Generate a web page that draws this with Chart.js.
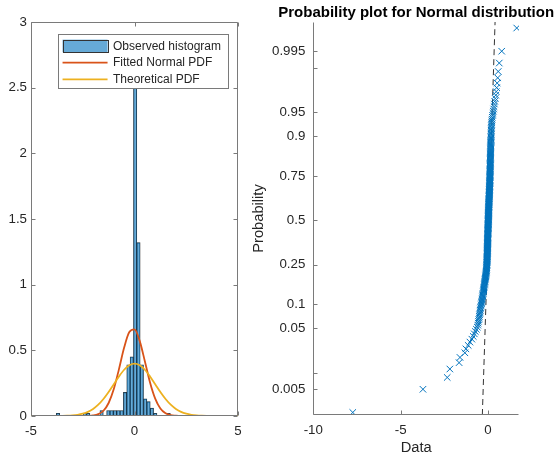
<!DOCTYPE html>
<html>
<head>
<meta charset="utf-8">
<script src="https://cdn.jsdelivr.net/npm/chart.js@4.4.0/dist/chart.umd.min.js"></script>
<style>
  html, body { margin: 0; padding: 0; background: #fff; }
  #wrap { position: relative; width: 557px; height: 459px; overflow: hidden; }
  canvas { position: absolute; top: 0; }
  #histCanvas { left: 0; }
  #probCanvas { left: 250px; }
</style>
</head>
<body>
<div id="wrap">
  <canvas id="histCanvas" width="260" height="459"></canvas>
  <canvas id="probCanvas" width="307" height="459"></canvas>
</div>
<script>
// ---------- left panel: histogram + pdfs ----------
const binCenters = [-3.695, -3.533, -3.371, -3.209, -3.047, -2.885, -2.723, -2.561, -2.399, -2.237,
  -2.075, -1.913, -1.751, -1.589, -1.427, -1.265, -1.103, -0.941, -0.779, -0.617,
  -0.455, -0.293, -0.131, 0.031, 0.193, 0.355, 0.517, 0.679, 0.841, 1.003,
  1.165, 1.327, 1.489, 1.651];
const binHeights = [0.021, 0, 0, 0, 0, 0, 0, 0, 0.021, 0.021,
  0, 0, 0, 0.042, 0, 0.042, 0.042, 0.042, 0.042, 0.042,
  0.18, 0.39, 0.45, 2.8, 1.32, 0.39, 0.13, 0.11, 0.06, 0.021,
  0, 0, 0, 0.021];

const pdfX = [-5, -4.75, -4.5, -4.25, -4, -3.75, -3.5, -3.25, -3, -2.75,
  -2.5, -2.25, -2, -1.75, -1.5, -1.25, -1, -0.75, -0.5, -0.25,
  0, 0.25, 0.5, 0.75, 1, 1.25, 1.5, 1.75, 2, 2.25,
  2.5, 2.75, 3, 3.25, 3.5, 3.75, 4, 4.25, 4.5, 4.75, 5];
const fittedPdf = [0, 0, 0, 0, 0, 0, 0, 0, 0, 0,
  0, 0.001, 0.004, 0.014, 0.040, 0.099, 0.205, 0.357, 0.521, 0.639,
  0.659, 0.572, 0.417, 0.255, 0.132, 0.057, 0.021, 0.006, 0.002, 0,
  0, 0, 0, 0, 0, 0, 0, 0, 0, 0, 0];
const theoreticalPdf = [0, 0, 0, 0, 0.0001, 0.0004, 0.0009, 0.002, 0.0044, 0.0091,
  0.0175, 0.0317, 0.054, 0.0863, 0.1295, 0.1826, 0.242, 0.3011, 0.3521, 0.3867,
  0.3989, 0.3867, 0.3521, 0.3011, 0.242, 0.1826, 0.1295, 0.0863, 0.054, 0.0317,
  0.0175, 0.0091, 0.0044, 0.002, 0.0009, 0.0004, 0.0001, 0, 0, 0, 0];

const histXTicks = [-5, 0, 5];
const histYTicks = [0, 0.5, 1, 1.5, 2, 2.5, 3];

// ---------- right panel: normal probability plot (300 sorted observations) ----------
const probData = [
  -7.74, -3.72, -2.33, -2.18, -1.65, -1.60, -1.32, -1.26, -1.13, -1.03,
  -0.92, -0.84, -0.78, -0.72, -0.66, -0.61, -0.58, -0.56, -0.54, -0.52,
  -0.50, -0.49, -0.48, -0.46, -0.45, -0.44, -0.43, -0.415, -0.40, -0.385,
  -0.37, -0.36, -0.35, -0.34, -0.33, -0.32, -0.31, -0.30, -0.29, -0.28,
  -0.27, -0.26, -0.25, -0.243, -0.235, -0.228, -0.22, -0.21, -0.20, -0.195,
  -0.19, -0.183, -0.175, -0.168, -0.16, -0.153, -0.145, -0.138, -0.13, -0.125,
  -0.12, -0.113, -0.105, -0.10, -0.095, -0.09, -0.085, -0.082, -0.078, -0.075,
  -0.072, -0.069, -0.066, -0.063, -0.06, -0.058, -0.056, -0.055, -0.053, -0.052,
  -0.050, -0.049, -0.047, -0.046, -0.045, -0.044, -0.042, -0.041, -0.040, -0.039,
  -0.037, -0.036, -0.035, -0.034, -0.033, -0.032, -0.031, -0.030, -0.029, -0.028,
  -0.027, -0.026, -0.025, -0.024, -0.023, -0.022, -0.021, -0.020, -0.019, -0.018,
  -0.017, -0.016, -0.015, -0.014, -0.013, -0.012, -0.011, -0.010, -0.009, -0.008,
  -0.007, -0.006, -0.005, -0.004, -0.003, -0.002, -0.001, 0.000, 0.001, 0.002,
  0.003, 0.004, 0.005, 0.006, 0.007, 0.008, 0.009, 0.010, 0.011, 0.012,
  0.013, 0.014, 0.015, 0.016, 0.017, 0.018, 0.019, 0.020, 0.021, 0.022,
  0.023, 0.024, 0.025, 0.026, 0.027, 0.028, 0.029, 0.030, 0.031, 0.032,
  0.033, 0.034, 0.035, 0.037, 0.038, 0.039, 0.040, 0.041, 0.042, 0.044,
  0.045, 0.046, 0.047, 0.048, 0.050, 0.051, 0.052, 0.053, 0.055, 0.056,
  0.057, 0.058, 0.060, 0.061, 0.062, 0.064, 0.065, 0.066, 0.068, 0.069,
  0.070, 0.072, 0.073, 0.075, 0.076, 0.078, 0.079, 0.081, 0.082, 0.084,
  0.085, 0.087, 0.088, 0.090, 0.092, 0.093, 0.095, 0.097, 0.098, 0.100,
  0.102, 0.103, 0.105, 0.106, 0.107, 0.108, 0.109, 0.110, 0.111, 0.112,
  0.113, 0.114, 0.115, 0.116, 0.117, 0.118, 0.119, 0.120, 0.121, 0.122,
  0.123, 0.124, 0.125, 0.126, 0.127, 0.128, 0.129, 0.130, 0.131, 0.132,
  0.133, 0.134, 0.135, 0.137, 0.138, 0.139, 0.140, 0.142, 0.143, 0.144,
  0.146, 0.147, 0.148, 0.150, 0.151, 0.152, 0.154, 0.155, 0.157, 0.158,
  0.160, 0.162, 0.164, 0.166, 0.168, 0.170, 0.172, 0.174, 0.176, 0.178,
  0.180, 0.183, 0.186, 0.189, 0.192, 0.196, 0.200, 0.204, 0.209, 0.215,
  0.225, 0.235, 0.25, 0.27, 0.29, 0.31, 0.33, 0.35, 0.37, 0.39,
  0.42, 0.45, 0.475, 0.50, 0.53, 0.56, 0.59, 0.65, 0.79, 1.65
];
const probLevels = [
  0.0017, 0.0050, 0.0083, 0.0117, 0.0150, 0.0183, 0.0217, 0.0250, 0.0283, 0.0317,
  0.0350, 0.0383, 0.0417, 0.0450, 0.0483, 0.0517, 0.0550, 0.0583, 0.0617, 0.0650,
  0.0683, 0.0717, 0.0750, 0.0783, 0.0817, 0.0850, 0.0883, 0.0917, 0.0950, 0.0983,
  0.1017, 0.1050, 0.1083, 0.1117, 0.1150, 0.1183, 0.1217, 0.1250, 0.1283, 0.1317,
  0.1350, 0.1383, 0.1417, 0.1450, 0.1483, 0.1517, 0.1550, 0.1583, 0.1617, 0.1650,
  0.1683, 0.1717, 0.1750, 0.1783, 0.1817, 0.1850, 0.1883, 0.1917, 0.1950, 0.1983,
  0.2017, 0.2050, 0.2083, 0.2117, 0.2150, 0.2183, 0.2217, 0.2250, 0.2283, 0.2317,
  0.2350, 0.2383, 0.2417, 0.2450, 0.2483, 0.2517, 0.2550, 0.2583, 0.2617, 0.2650,
  0.2683, 0.2717, 0.2750, 0.2783, 0.2817, 0.2850, 0.2883, 0.2917, 0.2950, 0.2983,
  0.3017, 0.3050, 0.3083, 0.3117, 0.3150, 0.3183, 0.3217, 0.3250, 0.3283, 0.3317,
  0.3350, 0.3383, 0.3417, 0.3450, 0.3483, 0.3517, 0.3550, 0.3583, 0.3617, 0.3650,
  0.3683, 0.3717, 0.3750, 0.3783, 0.3817, 0.3850, 0.3883, 0.3917, 0.3950, 0.3983,
  0.4017, 0.4050, 0.4083, 0.4117, 0.4150, 0.4183, 0.4217, 0.4250, 0.4283, 0.4317,
  0.4350, 0.4383, 0.4417, 0.4450, 0.4483, 0.4517, 0.4550, 0.4583, 0.4617, 0.4650,
  0.4683, 0.4717, 0.4750, 0.4783, 0.4817, 0.4850, 0.4883, 0.4917, 0.4950, 0.4983,
  0.5017, 0.5050, 0.5083, 0.5117, 0.5150, 0.5183, 0.5217, 0.5250, 0.5283, 0.5317,
  0.5350, 0.5383, 0.5417, 0.5450, 0.5483, 0.5517, 0.5550, 0.5583, 0.5617, 0.5650,
  0.5683, 0.5717, 0.5750, 0.5783, 0.5817, 0.5850, 0.5883, 0.5917, 0.5950, 0.5983,
  0.6017, 0.6050, 0.6083, 0.6117, 0.6150, 0.6183, 0.6217, 0.6250, 0.6283, 0.6317,
  0.6350, 0.6383, 0.6417, 0.6450, 0.6483, 0.6517, 0.6550, 0.6583, 0.6617, 0.6650,
  0.6683, 0.6717, 0.6750, 0.6783, 0.6817, 0.6850, 0.6883, 0.6917, 0.6950, 0.6983,
  0.7017, 0.7050, 0.7083, 0.7117, 0.7150, 0.7183, 0.7217, 0.7250, 0.7283, 0.7317,
  0.7350, 0.7383, 0.7417, 0.7450, 0.7483, 0.7517, 0.7550, 0.7583, 0.7617, 0.7650,
  0.7683, 0.7717, 0.7750, 0.7783, 0.7817, 0.7850, 0.7883, 0.7917, 0.7950, 0.7983,
  0.8017, 0.8050, 0.8083, 0.8117, 0.8150, 0.8183, 0.8217, 0.8250, 0.8283, 0.8317,
  0.8350, 0.8383, 0.8417, 0.8450, 0.8483, 0.8517, 0.8550, 0.8583, 0.8617, 0.8650,
  0.8683, 0.8717, 0.8750, 0.8783, 0.8817, 0.8850, 0.8883, 0.8917, 0.8950, 0.8983,
  0.9017, 0.9050, 0.9083, 0.9117, 0.9150, 0.9183, 0.9217, 0.9250, 0.9283, 0.9317,
  0.9350, 0.9383, 0.9417, 0.9450, 0.9483, 0.9517, 0.9550, 0.9583, 0.9617, 0.9650,
  0.9683, 0.9717, 0.9750, 0.9783, 0.9817, 0.9850, 0.9883, 0.9917, 0.9950, 0.9983
];
const refLineX = [-0.32, 0.41];
const refLineP = [0.0015, 0.99874];

const probXTicks = [-10, -5, 0];
const probTicks = [0.005, 0.01, 0.05, 0.1, 0.25, 0.5, 0.75, 0.9, 0.95, 0.99, 0.995];
const probTickLabels = ['0.005', '', '0.05', '0.1', '0.25', '0.5', '0.75', '0.9', '0.95', '', '0.995'];

const FONT = "Arial, 'Liberation Sans', Helvetica, sans-serif";
const TEXT = '#262626';
const AXIS = '#7a7a7a';
Chart.defaults.font.family = FONT;
Chart.defaults.color = TEXT;

// inverse normal cdf (Acklam) used by the probability axis
function normInv(p) {
  const a = [-3.969683028665376e+01, 2.209460984245205e+02, -2.759285104469687e+02, 1.383577518672690e+02, -3.066479806614716e+01, 2.506628277459239e+00];
  const b = [-5.447609879822406e+01, 1.615858368580409e+02, -1.556989798598866e+02, 6.680131188771972e+01, -1.328068155288572e+01];
  const c = [-7.784894002430293e-03, -3.223964580411365e-01, -2.400758277161838e+00, -2.549671602806910e+00, 4.374664141464968e+00, 2.938163982698783e+00];
  const d = [7.784695709041462e-03, 3.224671290700398e-01, 2.445134137142996e+00, 3.754408661907416e+00];
  const pl = 0.02425;
  let q, r;
  if (p < pl) {
    q = Math.sqrt(-2 * Math.log(p));
    return (((((c[0]*q+c[1])*q+c[2])*q+c[3])*q+c[4])*q+c[5]) / ((((d[0]*q+d[1])*q+d[2])*q+d[3])*q+1);
  }
  if (p > 1 - pl) {
    q = Math.sqrt(-2 * Math.log(1 - p));
    return -(((((c[0]*q+c[1])*q+c[2])*q+c[3])*q+c[4])*q+c[5]) / ((((d[0]*q+d[1])*q+d[2])*q+d[3])*q+1);
  }
  q = p - 0.5; r = q * q;
  return (((((a[0]*r+a[1])*r+a[2])*r+a[3])*r+a[4])*r+a[5])*q / (((((b[0]*r+b[1])*r+b[2])*r+b[3])*r+b[4])*r+1);
}

// linear scale on normal quantiles: values given as probabilities
class ProbitScale extends Chart.LinearScale {
  parse(raw, index) {
    const v = super.parse(raw, index);
    return (v === null || v === undefined) ? v : normInv(v);
  }
}
ProbitScale.id = 'probit';
ProbitScale.defaults = Chart.LinearScale.defaults;
Chart.register(ProbitScale);

// matlab style axes: inward ticks, optional box
const matlabAxes = {
  id: 'matlabAxes',
  afterDraw(chart, args, opts) {
    const {ctx, chartArea: a} = chart;
    const xs = chart.scales.x, ys = chart.scales.y;
    const L = Math.round(a.left) + 0.5, R = Math.round(a.right) - 0.5;
    const T = Math.round(a.top) + 0.5, B = Math.round(a.bottom) - 0.5;
    const tl = 4;
    ctx.save();
    ctx.strokeStyle = AXIS;
    ctx.lineWidth = 1;
    ctx.beginPath();
    ctx.moveTo(L, T); ctx.lineTo(L, B); ctx.lineTo(R, B);
    if (opts.box) { ctx.lineTo(R, T); ctx.lineTo(L, T); }
    xs.ticks.forEach(t => {
      const px = Math.round(xs.getPixelForValue(t.value)) + 0.5;
      ctx.moveTo(px, B); ctx.lineTo(px, B - tl);
      if (opts.box) { ctx.moveTo(px, T); ctx.lineTo(px, T + tl); }
    });
    ys.ticks.forEach(t => {
      const py = Math.round(ys.getPixelForValue(t.value)) + 0.5;
      ctx.moveTo(L, py); ctx.lineTo(L + tl, py);
      if (opts.box) { ctx.moveTo(R, py); ctx.lineTo(R - tl, py); }
    });
    ctx.stroke();
    if (opts.title) {
      ctx.fillStyle = '#000';
      ctx.font = 'bold 15px ' + FONT;
      ctx.textAlign = 'center';
      ctx.textBaseline = 'middle';
      ctx.fillText(opts.title, (a.left + a.right) / 2, 13);
    }
    ctx.restore();
  }
};

// legend box inside the axes, top right
const boxLegend = {
  id: 'boxLegend',
  afterDraw(chart) {
    const {ctx, chartArea: a} = chart;
    const sets = chart.data.datasets;
    ctx.save();
    ctx.font = '12px ' + FONT;
    const textW = Math.max(...sets.map(d => ctx.measureText(d.label).width));
    const rowH = 16.7, iconW = 45;
    const w = 5 + iconW + 5.4 + textW + 7;
    const h = 3.6 + rowH * sets.length + 0.6;
    const right = a.right - 10, top = a.top + 12;
    const left = right - w;
    ctx.fillStyle = '#fff';
    ctx.fillRect(left, top, w, h);
    ctx.strokeStyle = AXIS;
    ctx.lineWidth = 1;
    ctx.strokeRect(Math.round(left) + 0.5, Math.round(top) + 0.5, Math.round(w), Math.round(h));
    sets.forEach((d, i) => {
      const cy = top + 3.6 + rowH * (i + 0.5);
      const x0 = left + 5;
      if (d.type === 'bar') {
        ctx.fillStyle = d.backgroundColor;
        ctx.fillRect(x0, cy - 6.3, iconW, 12.6);
        ctx.strokeStyle = '#333';
        ctx.strokeRect(Math.round(x0) + 0.5, Math.round(cy - 6.3) + 0.5, iconW, 12);
      } else {
        ctx.strokeStyle = d.borderColor;
        ctx.lineWidth = d.borderWidth;
        ctx.beginPath();
        ctx.moveTo(x0, cy); ctx.lineTo(x0 + iconW, cy);
        ctx.stroke();
      }
      ctx.fillStyle = TEXT;
      ctx.textBaseline = 'middle';
      ctx.fillText(d.label, x0 + iconW + 5.4, cy + 0.5);
    });
    ctx.restore();
  }
};

new Chart(document.getElementById('histCanvas'), {
  type: 'bar',
  data: {
    datasets: [
      {
        type: 'bar',
        label: 'Observed histogram',
        data: binCenters.map((x, i) => ({x: x, y: binHeights[i]})),
        backgroundColor: 'rgba(0,114,189,0.6)',
        borderColor: 'rgba(0,0,0,0.8)',
        borderWidth: 0.5,
        barPercentage: 1,
        categoryPercentage: 1,
        order: 3
      },
      {
        type: 'line',
        label: 'Fitted Normal PDF',
        data: pdfX.map((x, i) => ({x: x, y: fittedPdf[i]})),
        borderColor: '#D95319',
        borderWidth: 1.8,
        pointRadius: 0,
        cubicInterpolationMode: 'monotone',
        order: 2
      },
      {
        type: 'line',
        label: 'Theoretical PDF',
        data: pdfX.map((x, i) => ({x: x, y: theoreticalPdf[i]})),
        borderColor: '#EDB120',
        borderWidth: 1.8,
        pointRadius: 0,
        cubicInterpolationMode: 'monotone',
        order: 1
      }
    ]
  },
  options: {
    responsive: false,
    animation: false,
    events: [],
    layout: { padding: { left: 0, right: 22, top: 22, bottom: 0 } },
    plugins: { legend: { display: false }, tooltip: { enabled: false }, matlabAxes: { box: true } },
    scales: {
      x: {
        type: 'linear', min: -5, max: 5, offset: false,
        grid: { display: false, drawTicks: false }, border: { display: false },
        afterBuildTicks: s => { s.ticks = histXTicks.map(v => ({value: v})); },
        afterFit: s => { s.height = 43; },
        ticks: { padding: 7, font: { size: 13.3 }, color: TEXT, callback: v => String(v), maxRotation: 0 }
      },
      y: {
        type: 'linear', min: 0, max: 3,
        grid: { display: false, drawTicks: false }, border: { display: false },
        afterBuildTicks: s => { s.ticks = histYTicks.map(v => ({value: v})); },
        afterFit: s => { s.width = 31; },
        ticks: { padding: 4, font: { size: 13.3 }, color: TEXT, callback: v => String(v), autoSkip: false }
      }
    }
  },
  plugins: [matlabAxes, boxLegend]
});

new Chart(document.getElementById('probCanvas'), {
  type: 'scatter',
  data: {
    datasets: [
      {
        type: 'line',
        label: 'reference',
        data: refLineX.map((x, i) => ({x: x, y: refLineP[i]})),
        borderColor: 'rgba(0,0,0,0.8)',
        borderWidth: 1,
        borderDash: [6, 4],
        pointRadius: 0,
        order: 2
      },
      {
        label: 'Data',
        data: probData.map((x, i) => ({x: x, y: probLevels[i]})),
        pointStyle: 'crossRot',
        pointRadius: 4.6,
        pointBorderWidth: 1,
        borderColor: '#0072BD',
        backgroundColor: 'rgba(0,0,0,0)',
        showLine: false,
        order: 1
      }
    ]
  },
  options: {
    responsive: false,
    animation: false,
    events: [],
    layout: { padding: { left: 0, right: 38, top: 22, bottom: 0 } },
    plugins: {
      legend: { display: false },
      tooltip: { enabled: false },
      matlabAxes: { box: false, title: 'Probability plot for Normal distribution' }
    },
    scales: {
      x: {
        type: 'linear', min: -10, max: 1.78,
        grid: { display: false, drawTicks: false }, border: { display: false },
        afterBuildTicks: s => { s.ticks = probXTicks.map(v => ({value: v})); },
        afterFit: s => { s.height = 44; },
        ticks: { padding: 7, font: { size: 13.3 }, color: TEXT, callback: v => String(v), maxRotation: 0 },
        title: { display: true, text: 'Data', color: TEXT, font: { size: 14.7 }, padding: { top: 0, bottom: 2 } }
      },
      y: {
        type: 'probit', min: 0.0015, max: 0.99874,
        grid: { display: false, drawTicks: false }, border: { display: false },
        afterBuildTicks: s => { s.ticks = probTicks.map(p => ({value: s.parse(p)})); },
        afterFit: s => { s.width = 63.3; },
        ticks: { padding: 8, font: { size: 13.3 }, color: TEXT, autoSkip: false,
                 callback: (v, i) => probTickLabels[i] },
        title: { display: true, text: 'Probability', color: TEXT, font: { size: 14.7 }, padding: { top: 0, bottom: 0 } }
      }
    }
  },
  plugins: [matlabAxes]
});
</script>
</body>
</html>
